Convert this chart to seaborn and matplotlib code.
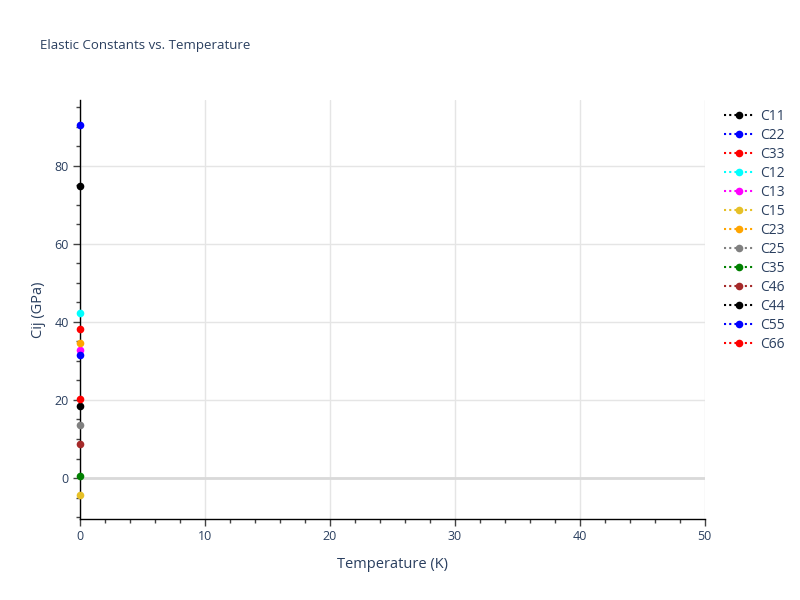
import numpy as np
import pandas as pd
import seaborn as sns
import matplotlib.pyplot as plt
from matplotlib.ticker import MultipleLocator

# Data (single temperature point at 0 K)
labels = ['C11', 'C22', 'C33', 'C12', 'C13', 'C15', 'C23', 'C25',
          'C35', 'C46', 'C44', 'C55', 'C66']
temperature = [0.0]
cij = [74.8, 90.4, 38.1, 42.4, 32.8, -4.4, 34.5, 13.6,
       0.6, 8.7, 18.4, 31.4, 20.2]
colors = ['black', 'blue', 'red', 'cyan', 'magenta', '#e6c027', 'orange',
          'gray', 'green', 'brown', 'black', 'blue', 'red']

df = pd.DataFrame({
    'Temperature': np.repeat(temperature, len(labels)),
    'Cij': cij,
    'Constant': labels,
})

sns.set_style('white')
plt.rcParams['font.family'] = ['Open Sans', 'DejaVu Sans']
text_color = '#2a3f5f'

fig, ax = plt.subplots(figsize=(8, 6), dpi=100)
fig.subplots_adjust(left=0.1, right=0.881, top=0.833, bottom=0.135)

for name, col in zip(labels, colors):
    sub = df[df['Constant'] == name]
    sns.lineplot(data=sub, x='Temperature', y='Cij', ax=ax, color=col,
                 marker='o', markersize=5.5, markeredgewidth=0,
                 linestyle=(0, (1, 1.5)), linewidth=1.5, label=name,
                 clip_on=False, zorder=5)

ax.set_xlim(0, 50)
ax.set_ylim(-10.5, 96.8)
ax.xaxis.set_major_locator(MultipleLocator(10))
ax.xaxis.set_minor_locator(MultipleLocator(2))
ax.yaxis.set_major_locator(MultipleLocator(20))
ax.yaxis.set_minor_locator(MultipleLocator(5))

ax.grid(True, which='major', color='#e5e5e5', linewidth=1)
ax.axhline(0, color='#d9d9d9', linewidth=2, zorder=1)
ax.set_axisbelow(True)

for side in ['top', 'right']:
    ax.spines[side].set_visible(False)
for side in ['left', 'bottom']:
    ax.spines[side].set_color('black')
    ax.spines[side].set_linewidth(1)

ax.tick_params(which='major', direction='out', length=5, width=1,
               color='#444444', labelsize=9, labelcolor=text_color,
               left=True, bottom=True, pad=3)
ax.tick_params(which='minor', direction='out', length=3, width=1,
               color='#444444', left=True, bottom=True)

ax.set_xlabel('Temperature (K)', fontsize=10.5, color=text_color, labelpad=10)
ax.set_ylabel('Cij (GPa)', fontsize=10.5, color=text_color, labelpad=6)

fig.text(0.05, 0.925, 'Elastic Constants vs. Temperature', fontsize=9.5,
         color=text_color, ha='left', va='center')

leg = ax.legend(loc='upper left', bbox_to_anchor=(1.018, 1.0), frameon=False,
                fontsize=10, handlelength=2.1, labelspacing=0.29,
                handletextpad=0.5, borderaxespad=0.2)
for t in leg.get_texts():
    t.set_color(text_color)

fig.savefig('out.png', dpi=100)
